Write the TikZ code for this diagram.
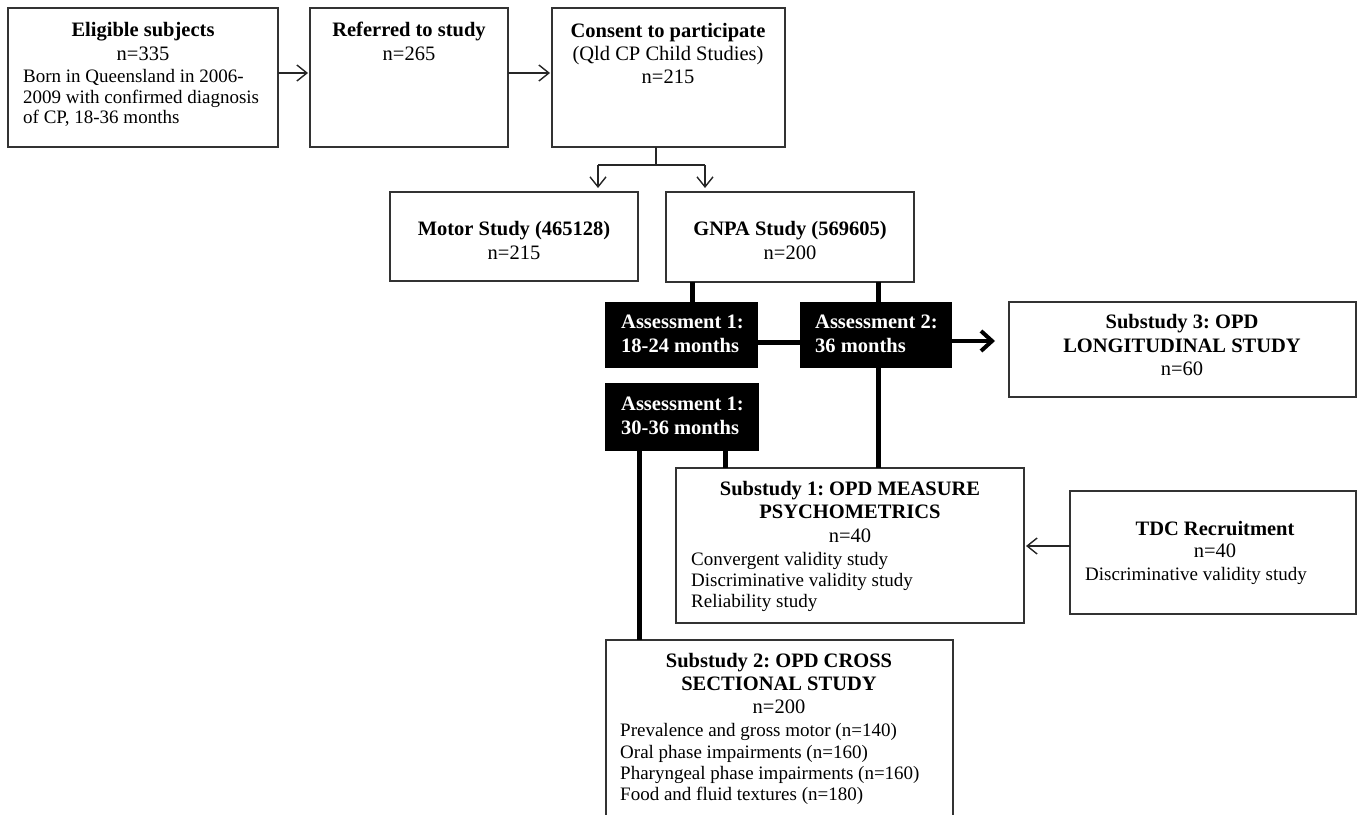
\documentclass[tikz,border=0pt]{standalone}
\usepackage{fontspec}
\setmainfont{Liberation Serif}
\usetikzlibrary{arrows.meta}
\frenchspacing
\begin{document}
\begin{tikzpicture}[x=1pt,y=-1pt,
  box/.style={draw=black!80, line width=1.3pt, fill=white, anchor=north west, inner sep=0pt, outer sep=0pt},
  abox/.style={fill=black, draw=none, anchor=north west, inner sep=0pt, outer sep=0pt},
  hd/.style={font=\fontsize{20.5}{23}\selectfont\bfseries, inner sep=0pt, anchor=base},
  tx/.style={font=\fontsize{20.5}{23}\selectfont, inner sep=0pt, anchor=base},
  sm/.style={font=\fontsize{19}{22}\selectfont, inner sep=0pt, anchor=base west},
  wt/.style={font=\fontsize{20.5}{23}\selectfont\bfseries, text=white, inner sep=0pt, anchor=base west},
  ln/.style={line width=1.4pt, draw=black!85},
  arr/.style={ln, -{Straight Barb[length=10pt,width=16pt]}},
  thk/.style={line width=5pt, draw=black},
  thkarr/.style={line width=4pt, draw=black, -{Straight Barb[length=11pt,width=20pt]}},
]
\useasboundingbox (0,0) rectangle (1357,814);
\clip (0,0) rectangle (1357,814);
\fill[white] (0,0) rectangle (1357,814);

% boxes
\node[box, minimum width=270pt, minimum height=139pt] (elig) at (8,8) {};
\node[box, minimum width=198pt, minimum height=139pt] (ref) at (310,8) {};
\node[box, minimum width=233pt, minimum height=139pt] (cons) at (552,8) {};
\node[box, minimum width=248pt, minimum height=89pt] (motor) at (390,192) {};
\node[box, minimum width=248pt, minimum height=90pt] (gnpa) at (666,192) {};
\node[abox, minimum width=153pt, minimum height=66pt] (a1) at (605,302) {};
\node[abox, minimum width=152pt, minimum height=66pt] (a2) at (800,302) {};
\node[abox, minimum width=154pt, minimum height=68pt] (a30) at (605,383) {};
\node[box, minimum width=347pt, minimum height=95pt] (sub3) at (1009,302) {};
\node[box, minimum width=348pt, minimum height=155pt] (sub1) at (676,468) {};
\node[box, minimum width=286pt, minimum height=123pt] (tdc) at (1070,491) {};
\node[box, minimum width=347pt, minimum height=200pt] (sub2) at (606,640) {};

% texts
\node[hd] (t-e1) at (143,36) {Eligible subjects};
\node[tx] (t-e2) at (143,60) {n=335};
\node[sm] (t-e3) at (23,82) {Born in Queensland in 2006-};
\node[sm] (t-e4) at (23,103) {2009 with confirmed diagnosis};
\node[sm] (t-e5) at (23,123) {of CP, 18-36 months};

\node[hd] (t-r1) at (409,36) {Referred to study};
\node[tx] (t-r2) at (409,60) {n=265};

\node[hd] (t-c1) at (668,37) {Consent to participate};
\node[tx] (t-c2) at (668,60) {(Qld CP Child Studies)};
\node[tx] (t-c3) at (668,83) {n=215};

\node[hd] (t-m1) at (514,235) {Motor Study (465128)};
\node[tx] (t-m2) at (514,259) {n=215};
\node[hd] (t-g1) at (790,235) {GNPA Study (569605)};
\node[tx] (t-g2) at (790,259) {n=200};

\node[wt] (t-a11) at (621,328) {Assessment 1:};
\node[wt] (t-a12) at (621,352) {18-24 months};
\node[wt] (t-a21) at (815,328) {Assessment 2:};
\node[wt] (t-a22) at (815,352) {36 months};
\node[wt] (t-a31) at (621,410) {Assessment 1:};
\node[wt] (t-a32) at (621,434) {30-36 months};

\node[hd] (t-s31) at (1182,328) {Substudy 3: OPD};
\node[hd] (t-s32) at (1182,352) {LONGITUDINAL STUDY};
\node[tx] (t-s33) at (1182,375) {n=60};

\node[hd] (t-s11) at (850,495) {Substudy 1: OPD MEASURE};
\node[hd] (t-s12) at (850,518) {PSYCHOMETRICS};
\node[tx] (t-s13) at (850,542) {n=40};
\node[sm] (t-s14) at (691,565) {Convergent validity study};
\node[sm] (t-s15) at (691,586) {Discriminative validity study};
\node[sm] (t-s16) at (691,607) {Reliability study};

\node[hd] (t-d1) at (1215,535) {TDC Recruitment};
\node[tx] (t-d2) at (1215,557) {n=40};
\node[sm] (t-d3) at (1085,580) {Discriminative validity study};

\node[hd] (t-s21) at (779,667) {Substudy 2: OPD CROSS};
\node[hd] (t-s22) at (779,690) {SECTIONAL STUDY};
\node[tx] (t-s23) at (779,713) {n=200};
\node[sm] (t-s24) at (620,736) {Prevalence and gross motor (n=140)};
\node[sm] (t-s25) at (620,758) {Oral phase impairments (n=160)};
\node[sm] (t-s26) at (620,779) {Pharyngeal phase impairments (n=160)};
\node[sm] (t-s27) at (620,800) {Food and fluid textures (n=180)};

% connectors
\draw[arr, shorten >=2pt] (elig.east |- 0,73) -- (ref.west |- 0,73);
\draw[arr, shorten >=2pt] (ref.east |- 0,73) -- (cons.west |- 0,73);
\coordinate (fork) at (656,165);
\coordinate (fl) at (598,165);
\coordinate (fr) at (705,165);
\draw[ln] (cons.south -| fork) -- (fork);
\draw[ln] (fl) -- (fr);
\draw[arr, shorten >=4pt] (fl) -- (motor.north -| fl);
\draw[arr, shorten >=4pt] (fr) -- (gnpa.north -| fr);

\draw[thk] (gnpa.south -| 692,0) -- (a1.north -| 692,0);
\draw[thk] (gnpa.south -| 878,0) -- (a2.north -| 878,0);
\draw[thk] (a1.east |- 0,342) -- (a2.west |- 0,342);
\draw[thkarr, shorten >=14pt] (a2.east |- 0,341) -- (sub3.west |- 0,341);
\draw[thk] (a2.south -| 878,0) -- (sub1.north -| 878,0);
\draw[thk] (a30.south -| 725,0) -- (sub1.north -| 725,0);
\draw[thk] (a30.south -| 639,0) -- (sub2.north -| 639,0);
\draw[arr, shorten >=2pt] (tdc.west |- 0,546) -- (sub1.east |- 0,546);
\end{tikzpicture}
\end{document}
